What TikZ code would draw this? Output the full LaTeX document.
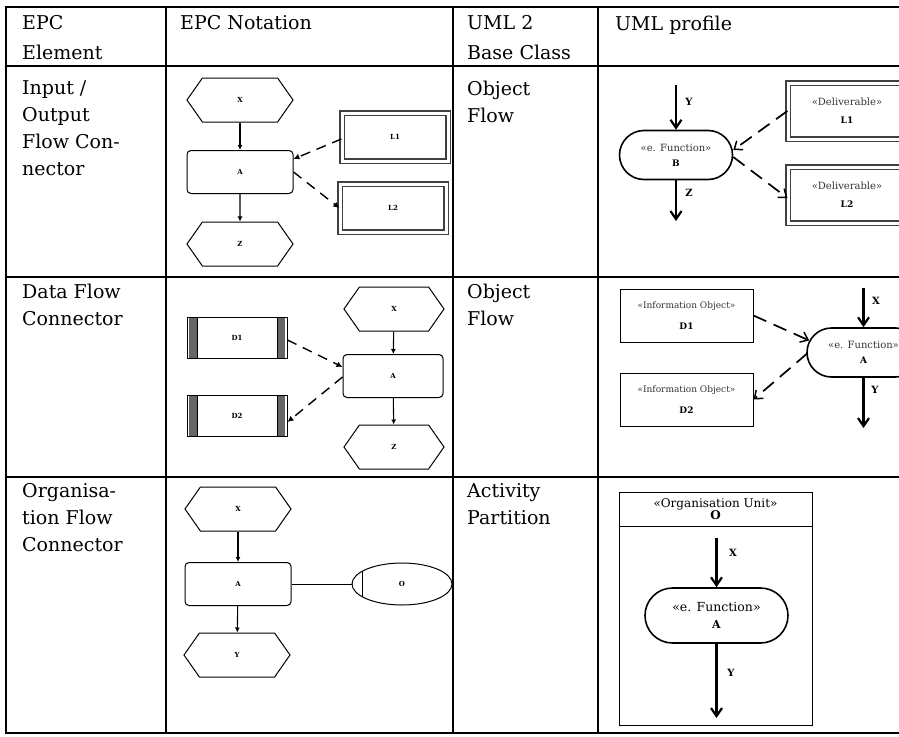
\documentclass[tikz,border=0pt]{standalone}
\usepackage{fontspec}
\setmainfont{DejaVu Serif}
\usetikzlibrary{arrows.meta,shapes.symbols,shapes.misc,shapes.geometric}
\newcommand\stfont{\fontsize{10}{12}\selectfont\color{black!80}}
\newcommand\sbfont{\bfseries\fontsize{9}{11}\selectfont}
\begin{document}
\begin{tikzpicture}[x=1pt,y=-1pt,
  grid/.style={line width=2.6pt, line cap=rect},
  cell/.style={anchor=north west, inner sep=0pt, align=left, font=\fontsize{19}{27}\selectfont},
  headcell/.style={cell, font=\fontsize{19}{30}\selectfont},
  epclbl/.style={font=\bfseries\fontsize{7}{8}\selectfont},
  hexa/.style={draw, line width=1pt, signal, signal to=west and east, signal pointer angle=110,
     inner sep=0pt, minimum width=106pt, minimum height=44pt, epclbl},
  epcfunc/.style={draw, line width=1pt, rounded corners=4pt, inner sep=0pt,
     minimum width=106pt, minimum height=43pt, epclbl},
  deliv/.style={draw=black!75, line width=1.2pt, double=white, double distance=3pt, inner sep=0pt,
     minimum width=106pt, minimum height=48pt, epclbl},
  datab/.style={draw, line width=1pt, inner sep=0pt, minimum width=100pt, minimum height=41pt, epclbl,
     path picture={
       \fill[black!60] ([xshift=2pt]path picture bounding box.north west) rectangle ([xshift=10pt]path picture bounding box.south west);
       \fill[black!60] ([xshift=-10pt]path picture bounding box.north east) rectangle ([xshift=-2pt]path picture bounding box.south east);
       \draw[line width=0.9pt] ([xshift=10pt]path picture bounding box.north west) -- ([xshift=10pt]path picture bounding box.south west);
       \draw[line width=0.9pt] ([xshift=-10pt]path picture bounding box.north east) -- ([xshift=-10pt]path picture bounding box.south east);}},
  orgell/.style={draw, line width=1pt, ellipse, inner sep=0pt, minimum width=100pt, minimum height=42pt, epclbl,
     path picture={\draw[line width=1pt] ([xshift=10pt]path picture bounding box.north west) -- ([xshift=10pt]path picture bounding box.south west);}},
  epcarrow/.style={line width=1.1pt, -{Latex[length=5pt,width=5pt]}},
  dasharrow/.style={line width=1.4pt, dash pattern=on 10pt off 7pt, -{Latex[length=6pt,width=6pt]}},
  plainline/.style={line width=1pt},
  ufunc/.style={draw, line width=1.6pt, rounded rectangle, inner sep=0pt, align=center,
     minimum width=113pt, minimum height=49pt},
  udeliv/.style={draw=black!75, line width=1.2pt, double=white, double distance=3pt, inner sep=0pt,
     minimum width=118pt, minimum height=56pt, align=center},
  infobox/.style={draw, line width=1pt, inner sep=0pt, minimum width=133pt, minimum height=53pt, align=center},
  umlarrow/.style={line width=2.8pt, -{Straight Barb[length=8pt,width=11pt,line width=2.2pt]}},
  umldash/.style={line width=1.7pt, dash pattern=on 14pt off 8pt, -{Straight Barb[length=7pt,width=11pt,line width=1.5pt]}},
  arrlbl/.style={font=\bfseries\fontsize{10}{12}\selectfont, inner sep=0pt}
]
\useasboundingbox (0,0) rectangle (899,736);
\clip (0,0) rectangle (899,736);

% ---------- table ----------
\foreach \yy in {7,66,277,477,733} { \draw[grid] (6,\yy) -- (899,\yy); }
\foreach \xx in {6,166,453,598} { \draw[grid] (\xx,7) -- (\xx,733); }

\node[headcell] (h1) at (22,15.5) {EPC\\Element};
\node[headcell] (h2) at (180,15.5) {EPC Notation};
\node[headcell] (h3) at (467,15.5) {UML 2\\Base Class};
\node[headcell] (h4) at (615,15.5) {UML profile};
\node[cell] (r1c1) at (22,80.5) {Input /\\Output\\Flow Con-\\nector};
\node[cell] (r1c3) at (467,80.5) {Object\\Flow};
\node[cell] (r2c1) at (22,283.5) {Data Flow\\Connector};
\node[cell] (r2c3) at (467,283.5) {Object\\Flow};
\node[cell] (r3c1) at (22,483.5) {Organisa-\\tion Flow\\Connector};
\node[cell] (r3c3) at (467,483.5) {Activity\\Partition};

% ---------- row 1, EPC ----------
\node[hexa] (x1) at (240,100) {X};
\node[epcfunc] (a1) at (240,172) {A};
\node[hexa] (z1) at (240,244) {Z};
\node[deliv] (l1) at (395,137) {L1};
\node[deliv] (l2) at (393,208) {L2};
\draw[epcarrow] (x1) -- (a1);
\draw[epcarrow] (a1) -- (z1);
\draw[dasharrow] ([yshift=-2pt]l1.west) -- ([yshift=13pt]a1.east);
\draw[dasharrow] (a1.east) -- (l2.west);

% ---------- row 1, UML ----------
\node[ufunc] (f1) at (676,155) {{\stfont «e. Function»}\\[3pt]{\sbfont B}};
\coordinate (f1in) at (676,85);
\coordinate (f1out) at (676,221);
\draw[umlarrow] (f1in) -- (f1.north);
\draw[umlarrow] (f1.south) -- (f1out);
\node[arrlbl] (ly1) at (689,102) {Y};
\node[arrlbl] (lz1) at (689,193) {Z};
\node[udeliv] (ul1) at (847,111) {{\stfont «Deliverable»}\\[6pt]{\sbfont L1}};
\node[udeliv] (ul2) at (847,195) {{\stfont «Deliverable»}\\[6pt]{\sbfont L2}};
\draw[umldash] (ul1.west) -- ([yshift=5pt]f1.east);
\draw[umldash] ([yshift=-2pt]f1.east) -- ([yshift=-3pt]ul2.west);

% ---------- row 2, EPC ----------
\node[hexa, minimum width=100pt] (x2) at (394,309) {X};
\node[epcfunc, minimum width=100pt] (a2) at (393,376) {A};
\node[hexa, minimum width=100pt] (z2) at (394,447) {Z};
\node[datab] (d1) at (237,338) {D1};
\node[datab] (d2) at (237,416) {D2};
\draw[epcarrow] (x2) -- (a2);
\draw[epcarrow] (a2) -- (z2);
\draw[dasharrow] ([yshift=-2pt]d1.east) -- ([yshift=9pt]a2.west);
\draw[dasharrow] ([yshift=-1pt]a2.west) -- ([yshift=-6pt]d2.east);

% ---------- row 2, UML ----------
\node[infobox] (ud1) at (686.5,315.5) {{\stfont\fontsize{9}{11}\selectfont «Information Object»}\\[9pt]{\sbfont D1}};
\node[infobox] (ud2) at (686.5,399.5) {{\stfont\fontsize{9}{11}\selectfont «Information Object»}\\[9pt]{\sbfont D2}};
\node[ufunc] (f2) at (863.5,352.5) {{\stfont «e. Function»}\\[3pt]{\sbfont A}};
\coordinate (f2in) at (863.5,288);
\coordinate (f2out) at (863.5,428);
\draw[umlarrow] (f2in) -- (f2.north);
\draw[umlarrow] (f2.south) -- (f2out);
\node[arrlbl] (lx2) at (876,301) {X};
\node[arrlbl] (ly2) at (875,390) {Y};
\draw[umldash] (ud1.east) -- ([xshift=3pt,yshift=12pt]f2.west);
\draw[umldash] ([xshift=1pt,yshift=-1pt]f2.west) -- (ud2.east);

% ---------- row 3, EPC ----------
\node[hexa] (x3) at (238,509) {X};
\node[epcfunc] (a3) at (238,584) {A};
\node[hexa] (y3) at (237,655) {Y};
\node[orgell] (o3) at (402,584) {O};
\draw[epcarrow] (x3) -- (a3);
\draw[epcarrow] (a3) -- (y3);
\draw[plainline] (a3) -- (o3);

% ---------- row 3, UML ----------
\node[draw, line width=1pt, inner sep=0pt, minimum width=193pt, minimum height=34pt, align=center] (oh) at (715.5,509)
  {{\fontsize{12}{13}\selectfont «Organisation Unit»}\\[0pt]{\bfseries\fontsize{12}{13}\selectfont O}};
\node[draw, line width=1pt, inner sep=0pt, minimum width=193pt, minimum height=199pt] (ob) at (715.5,625.5) {};
\node[ufunc, minimum width=143pt, minimum height=55pt] (f3) at (716.5,615.5)
  {{\fontsize{12.5}{14}\selectfont «e. Function»}\\[5pt]{\bfseries\fontsize{11}{12}\selectfont A}};
\coordinate (f3in) at (716.5,538);
\coordinate (f3out) at (716.5,718);
\draw[umlarrow] (f3in) -- (f3.north);
\draw[umlarrow] (f3.south) -- (f3out);
\node[arrlbl] (lx3) at (733,553) {X};
\node[arrlbl] (ly3) at (731,673) {Y};
\end{tikzpicture}
\end{document}
